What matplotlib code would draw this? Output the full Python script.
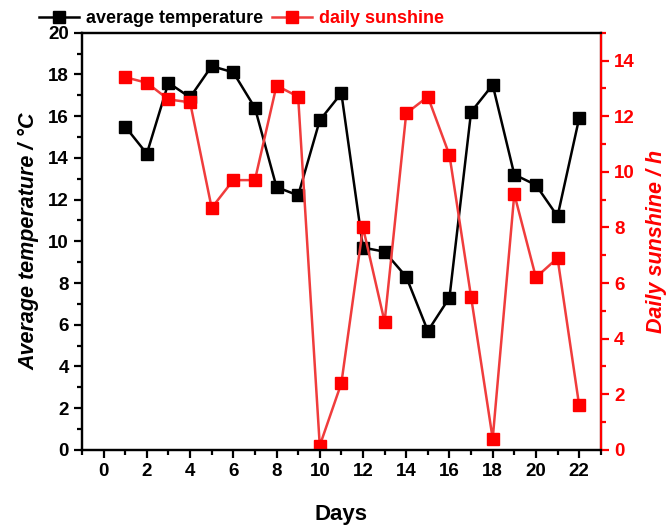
import matplotlib.pyplot as plt
import numpy as np

plt.rcParams['font.family'] = ['Liberation Sans', 'DejaVu Sans']
plt.rcParams['font.weight'] = 'bold'
plt.rcParams['axes.labelweight'] = 'bold'

days = list(range(1, 23))
avg_temp = [15.5, 14.2, 17.6, 16.9, 18.4, 18.1, 16.4, 12.6, 12.2, 15.8, 17.1,
            9.7, 9.5, 8.3, 5.7, 7.3, 16.2, 17.5, 13.2, 12.7, 11.2, 15.9]
sunshine = [13.4, 13.2, 12.6, 12.5, 8.7, 9.7, 9.7, 13.1, 12.7, 0.15, 2.4,
            8.0, 4.6, 12.1, 12.7, 10.6, 5.5, 0.4, 9.2, 6.2, 6.9, 1.6]

red = '#ff0000'

fig = plt.figure(figsize=(6.72, 5.28), dpi=100)
ax = fig.add_axes([0.122, 0.148, 0.772, 0.79])
ax2 = ax.twinx()

l1, = ax.plot(days, avg_temp, color='black', lw=1.8, marker='s', ms=8.5,
              label='average temperature')
l2, = ax2.plot(days, sunshine, color='#f03c3c', lw=1.8, marker='s', ms=8.5,
               mfc=red, mec=red, label='daily sunshine')

ax.set_xlim(-1, 23)
ax.set_ylim(0, 20)
ax2.set_ylim(0, 15)
ax.set_xticks(np.arange(0, 23, 2))
ax.set_xticks(np.arange(-1, 24, 1), minor=True)
ax.set_yticks(np.arange(0, 21, 2))
ax.set_yticks(np.arange(0, 21, 1), minor=True)
ax2.set_yticks(np.arange(0, 15, 2))
ax2.set_yticks(np.arange(0, 16, 1), minor=True)

for a in (ax, ax2):
    for s in a.spines.values():
        s.set_linewidth(1.6)
ax2.spines['right'].set_color(red)

ax.tick_params(which='major', direction='out', length=6, width=1.6, labelsize=13.5)
ax.tick_params(which='minor', direction='out', length=3.5, width=1.6)
ax2.tick_params(which='major', direction='out', length=6, width=1.6, labelsize=13.5,
                colors=red)
ax2.tick_params(which='minor', direction='out', length=3.5, width=1.6, colors=red)

ax.set_xlabel('Days', fontsize=16, labelpad=17)
ax.set_ylabel('Average temperature / °C', fontsize=15.5, style='italic', labelpad=6)
ax2.set_ylabel('Daily sunshine / h', fontsize=15.5, style='italic', color=red,
               labelpad=8)

leg = fig.legend(handles=[l1, l2], loc='center', bbox_to_anchor=(0.36, 0.965),
                 ncol=2, frameon=False, fontsize=13, handlelength=2.2,
                 columnspacing=0.5, handletextpad=0.4)
leg.get_texts()[1].set_color(red)

fig.savefig('out.png', dpi=100)
